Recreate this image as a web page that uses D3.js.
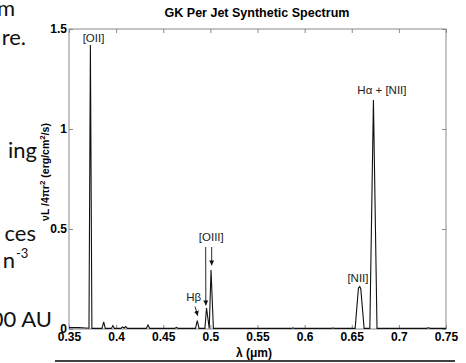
<!DOCTYPE html>
<html>
<head>
<meta charset="utf-8">
<script src="https://cdn.jsdelivr.net/npm/d3@7"></script>
<style>
	body { margin: 0; background: #fff; }
	svg { display: block; }
</style>
</head>
<body>
<div id="spectrum-div"></div>
<script>
// Spectrum vertices: wavelength (micron) and nuL/4pi r^2
const wavelength = [
	0.350, 0.360, 0.368, 0.3712, 0.3727, 0.3743, 0.380, 0.3850, 0.3868, 0.3885,
	0.3950, 0.3966, 0.3982, 0.4050, 0.4068, 0.4085, 0.4102, 0.4120, 0.4320, 0.4338,
	0.4356, 0.4620, 0.4640, 0.4660, 0.4842, 0.4861, 0.4880, 0.4942, 0.4959, 0.4988,
	0.5007, 0.5032, 0.5860, 0.5876, 0.5892, 0.6280, 0.6300, 0.6320, 0.6536, 0.6571,
	0.6585, 0.6596, 0.6631, 0.6692, 0.6730, 0.6768, 0.7290, 0.7313, 0.7336, 0.7500,
];
const flux = [
	0.007, 0.007, 0.005, 0.004, 1.42, 0.003, 0.003, 0.003, 0.036, 0.003,
	0.003, 0.017, 0.003, 0.003, 0.010, 0.005, 0.012, 0.003, 0.003, 0.020,
	0.003, 0.003, 0.008, 0.003, 0.003, 0.042, 0.003, 0.003, 0.105, 0.003,
	0.295, 0.003, 0.003, 0.006, 0.003, 0.003, 0.005, 0.003, 0.003, 0.205,
	0.212, 0.200, 0.003, 0.003, 1.145, 0.003, 0.003, 0.006, 0.003, 0.003,
];

const xTicks = [0.35, 0.4, 0.45, 0.5, 0.55, 0.6, 0.65, 0.7, 0.75];
const xTickLabels = ["0.35", "0.4", "0.45", "0.5", "0.55", "0.6", "0.65", "0.7", "0.75"];
const yTicks = [0, 0.5, 1, 1.5];
const yTickLabels = ["0", "0.5", "1", "1.5"];

// line identifications (label anchor in data units)
const lineNames = ["[OII]", "Hα + [NII]", "[OIII]", "Hβ", "[NII]"];
const lineNameWavelength = [0.376, 0.682, 0.501, 0.4824, 0.6566];
const lineNameFlux = [1.435, 1.175, 0.44, 0.14, 0.235];

// arrows: [start, tip]
const arrowWavelength = [[0.4838, 0.4866], [0.4950, 0.4952], [0.5014, 0.5014]];
const arrowFlux = [[0.112, 0.066], [0.41, 0.118], [0.41, 0.318]];

// cut off slide text at the left edge
const slideText = ["m", "re.", "ing", "ces", "n", "00 AU"];

const width = 466;
const height = 363;
const margin = { top: 29, left: 69, right: 20, bottom: 34 };

const svg = d3
	.select("#spectrum-div")
	.append("svg")
	.attr("width", width)
	.attr("height", height);

// slide text
const slideRight = [15, 26, 37, 36, 15, 52];
const slideBaseline = [16, 45, 158, 241, 268, 327];
svg.append("g")
	.selectAll("text")
	.data(slideText)
	.join("text")
	.attr("x", (d, i) => slideRight[i])
	.attr("y", (d, i) => slideBaseline[i])
	.attr("text-anchor", "end")
	.style("font-family", "Lato, 'Open Sans', sans-serif")
	.style("font-size", "22px")
	.attr("fill", "#111")
	.text((d) => d);
svg.append("text")
	.attr("x", 16)
	.attr("y", 258)
	.style("font-family", "Lato, 'Open Sans', sans-serif")
	.style("font-size", "13px")
	.attr("fill", "#111")
	.text("-3");

// rule under the chart
svg.append("line")
	.attr("x1", 55)
	.attr("x2", 455)
	.attr("y1", 361)
	.attr("y2", 361)
	.attr("stroke", "#000")
	.attr("stroke-width", 1.5);

const xScale = d3
	.scaleLinear()
	.domain([0.35, 0.75])
	.range([margin.left, width - margin.right]);
const yScale = d3
	.scaleLinear()
	.domain([0, 1.5])
	.range([height - margin.bottom, margin.top]);

const axisColor = "#8a8a8a";
const fontFamily = "'Liberation Sans', Arial, sans-serif";

function styleAxis(g, showText) {
	g.select(".domain").remove();
	g.selectAll(".tick line").attr("stroke", axisColor);
	g.selectAll(".tick text")
		.attr("fill", showText ? "#000" : "none")
		.style("font-family", fontFamily)
		.style("font-size", "12px")
		.style("font-weight", "bold");
}

// bottom / top
svg.append("g")
	.attr("transform", `translate(0, ${yScale(0)})`)
	.call(
		d3.axisBottom(xScale)
			.tickValues(xTicks)
			.tickFormat((d, i) => xTickLabels[i])
			.tickSizeInner(-4)
			.tickSizeOuter(0)
			.tickPadding(3)
	)
	.call((g) => styleAxis(g, true));
svg.append("g")
	.attr("transform", `translate(0, ${yScale(1.5)})`)
	.call(
		d3.axisTop(xScale)
			.tickValues(xTicks)
			.tickFormat("")
			.tickSizeInner(-4)
			.tickSizeOuter(0)
	)
	.call((g) => styleAxis(g, false));

// left / right
svg.append("g")
	.attr("transform", `translate(${xScale(0.35)}, 0)`)
	.call(
		d3.axisLeft(yScale)
			.tickValues(yTicks)
			.tickFormat((d, i) => yTickLabels[i])
			.tickSizeInner(-4)
			.tickSizeOuter(0)
			.tickPadding(2)
	)
	.call((g) => styleAxis(g, true));
svg.append("g")
	.attr("transform", `translate(${xScale(0.75)}, 0)`)
	.call(
		d3.axisRight(yScale)
			.tickValues(yTicks)
			.tickFormat("")
			.tickSizeInner(-4)
			.tickSizeOuter(0)
	)
	.call((g) => styleAxis(g, false));

// box
svg.append("rect")
	.attr("x", xScale(0.35))
	.attr("y", yScale(1.5))
	.attr("width", xScale(0.75) - xScale(0.35))
	.attr("height", yScale(0) - yScale(1.5))
	.attr("fill", "none")
	.attr("stroke", axisColor)
	.attr("stroke-width", 1);

// spectrum
const spectrum = wavelength.map((w, i) => ({ w: w, f: flux[i] }));
const lineGenerator = d3
	.line()
	.x((d) => xScale(d.w))
	.y((d) => yScale(d.f));
svg.append("path")
	.datum(spectrum)
	.attr("d", lineGenerator)
	.attr("fill", "none")
	.attr("stroke", "#111")
	.attr("stroke-width", 1.1)
	.attr("stroke-linejoin", "miter");

// title and axis labels
svg.append("text")
	.text("GK Per Jet Synthetic Spectrum")
	.attr("x", 257)
	.attr("y", 17)
	.attr("text-anchor", "middle")
	.style("font-family", fontFamily)
	.style("font-size", "12.5px")
	.style("font-weight", "bold");

svg.append("text")
	.text("λ (μm)")
	.attr("x", 254)
	.attr("y", 357)
	.attr("text-anchor", "middle")
	.style("font-family", fontFamily)
	.style("font-size", "12px")
	.style("font-weight", "bold");

let yLabel = svg.append("text")
	.attr("transform", "translate(49, 172) rotate(-90)")
	.attr("text-anchor", "middle")
	.style("font-family", fontFamily)
	.style("font-size", "10.5px")
	.style("font-weight", "bold");
yLabel.append("tspan").text("νL /4πr");
yLabel.append("tspan").text("2").attr("dy", -4).style("font-size", "8px");
yLabel.append("tspan").text(" (erg/cm").attr("dy", 4);
yLabel.append("tspan").text("2").attr("dy", -4).style("font-size", "8px");
yLabel.append("tspan").text("/s)").attr("dy", 4);

// line identifications
svg.append("g")
	.selectAll("text")
	.data(lineNames)
	.join("text")
	.attr("x", (d, i) => xScale(lineNameWavelength[i]))
	.attr("y", (d, i) => yScale(lineNameFlux[i]))
	.attr("text-anchor", "middle")
	.style("font-family", fontFamily)
	.style("font-size", "11.5px")
	.attr("fill", "#222")
	.text((d) => d);

svg.append("defs")
	.append("marker")
	.attr("id", "arrowhead")
	.attr("viewBox", "0 0 10 10")
	.attr("refX", 10)
	.attr("refY", 5)
	.attr("markerWidth", 5)
	.attr("markerHeight", 5)
	.attr("markerUnits", "userSpaceOnUse")
	.attr("orient", "auto")
	.append("path")
	.attr("d", "M0,0 L10,5 L0,10 Z")
	.attr("fill", "#111");

svg.append("g")
	.selectAll("line")
	.data(arrowWavelength)
	.join("line")
	.attr("x1", (d) => xScale(d[0]))
	.attr("x2", (d) => xScale(d[1]))
	.attr("y1", (d, i) => yScale(arrowFlux[i][0]))
	.attr("y2", (d, i) => yScale(arrowFlux[i][1]))
	.attr("stroke", "#111")
	.attr("stroke-width", 0.9)
	.attr("marker-end", "url(#arrowhead)");
</script>
</body>
</html>
